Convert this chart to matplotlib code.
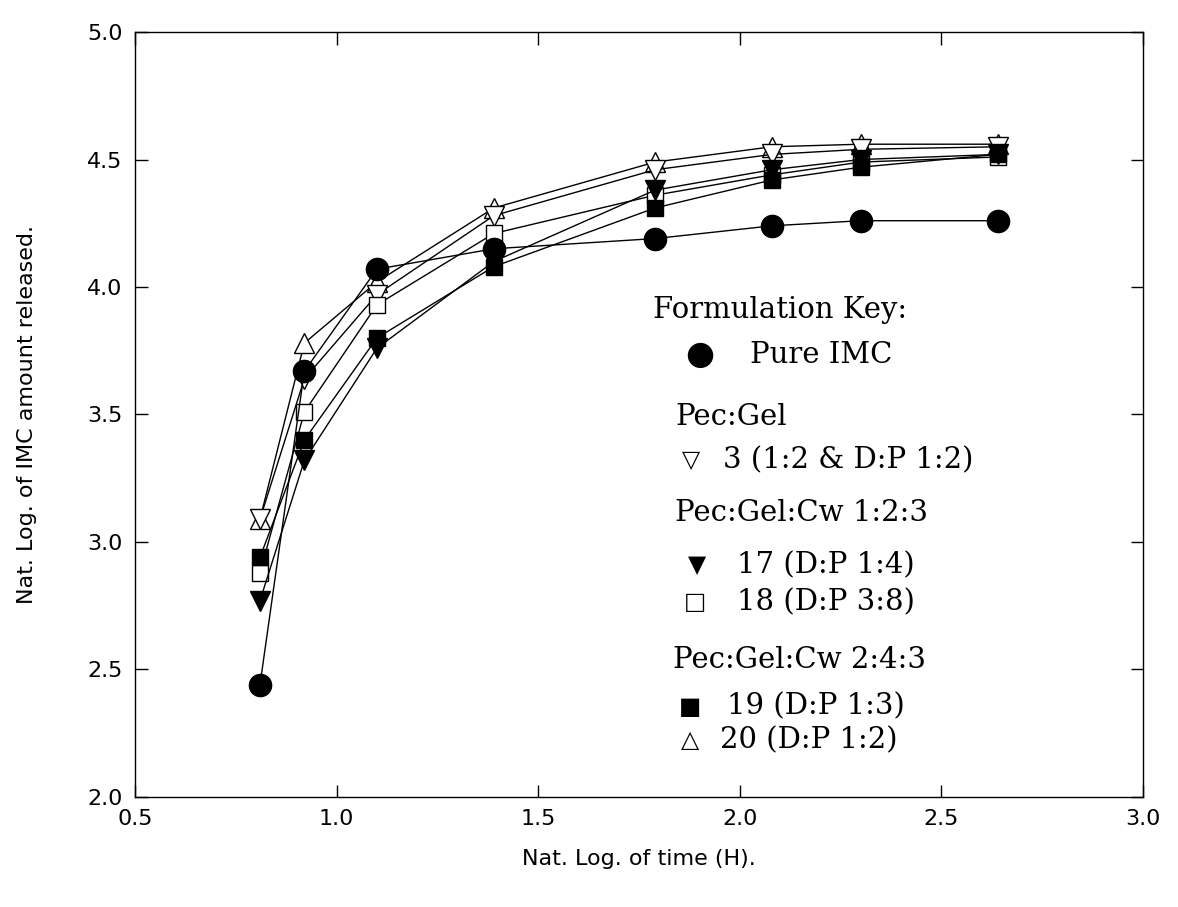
import matplotlib
matplotlib.use("Agg")
import matplotlib.pyplot as plt

# -----------------------------
# Data
# -----------------------------
ln_time = [0.81, 0.92, 1.10, 1.39, 1.79, 2.08, 2.30, 2.64]

pure_imc = [2.44, 3.67, 4.07, 4.15, 4.19, 4.24, 4.26, 4.26]
f3 = [3.09, 3.64, 3.97, 4.28, 4.46, 4.52, 4.54, 4.55]
f17 = [2.77, 3.32, 3.76, 4.10, 4.38, 4.46, 4.50, 4.52]
f18 = [2.88, 3.51, 3.93, 4.21, 4.36, 4.44, 4.49, 4.51]
f19 = [2.94, 3.40, 3.80, 4.08, 4.31, 4.42, 4.47, 4.52]
f20 = [3.09, 3.78, 4.02, 4.31, 4.49, 4.55, 4.56, 4.56]

xticks = [0.5, 1.0, 1.5, 2.0, 2.5, 3.0]
yticks = [2.0, 2.5, 3.0, 3.5, 4.0, 4.5, 5.0]

# -----------------------------
# Figure
# -----------------------------
fig = plt.figure(figsize=(11.78, 9.07), dpi=100)
ax = fig.add_axes([0.1146, 0.1213, 0.8557, 0.8434])

line_kw = dict(color="black", linewidth=1.0, markeredgecolor="black",
               markeredgewidth=1.0)

ax.plot(ln_time, f20, marker="^", markersize=14, markerfacecolor="white", **line_kw)
ax.plot(ln_time, f3, marker="v", markersize=14, markerfacecolor="white", **line_kw)
ax.plot(ln_time, f18, marker="s", markersize=12, markerfacecolor="white", **line_kw)
ax.plot(ln_time, f17, marker="v", markersize=14, markerfacecolor="black", **line_kw)
ax.plot(ln_time, f19, marker="s", markersize=12, markerfacecolor="black", **line_kw)
ax.plot(ln_time, pure_imc, marker="o", markersize=16, markerfacecolor="black", **line_kw)

ax.set_xlim(0.5, 3.0)
ax.set_ylim(2.0, 5.0)
ax.set_xticks(xticks)
ax.set_yticks(yticks)
ax.set_xticklabels([f"{v:.1f}" for v in xticks])
ax.set_yticklabels([f"{v:.1f}" for v in yticks])
ax.tick_params(direction="in", length=9, width=1, top=True, right=True,
               labelsize=16, pad=9, colors="black")
for s in ax.spines.values():
    s.set_linewidth(1.0)

ax.set_xlabel("Nat. Log. of time (H).", fontsize=16, labelpad=14)
ax.set_ylabel("Nat. Log. of IMC amount released.", fontsize=16, labelpad=36)

# -----------------------------
# Formulation key (text)
# -----------------------------
tr = ax.transAxes
key_font = dict(family=["DejaVu Serif", "DejaVu Sans"], fontsize=21,
                va="center", ha="left", transform=tr)
sym_font = dict(family=["DejaVu Sans"], fontsize=17, va="center",
                ha="center", transform=tr)

ax.text(0.514, 0.637, "Formulation Key:", **key_font)
ax.text(0.5605, 0.578, "\u25cf", family=["DejaVu Sans"], fontsize=24,
        va="center", ha="center", transform=tr)
ax.text(0.610, 0.578, "Pure IMC", **key_font)

ax.text(0.536, 0.497, "Pec:Gel", **key_font)
ax.text(0.5516, 0.440, "\u25bd", **sym_font)
ax.text(0.583, 0.440, "3 (1:2 & D:P 1:2)", **key_font)

ax.text(0.536, 0.371, "Pec:Gel:Cw 1:2:3", **key_font)
ax.text(0.5575, 0.303, "\u25bc", **sym_font)
ax.text(0.597, 0.303, "17 (D:P 1:4)", **key_font)
ax.text(0.5556, 0.255, "\u25a1", **sym_font)
ax.text(0.597, 0.255, "18 (D:P 3:8)", **key_font)

ax.text(0.534, 0.179, "Pec:Gel:Cw 2:4:3", **key_font)
ax.text(0.5506, 0.118, "\u25a0", **sym_font)
ax.text(0.587, 0.118, "19 (D:P 1:3)", **key_font)
ax.text(0.5506, 0.0745, "\u25b3", **sym_font)
ax.text(0.580, 0.0745, "20 (D:P 1:2)", **key_font)

fig.savefig("out.png", dpi=100)
